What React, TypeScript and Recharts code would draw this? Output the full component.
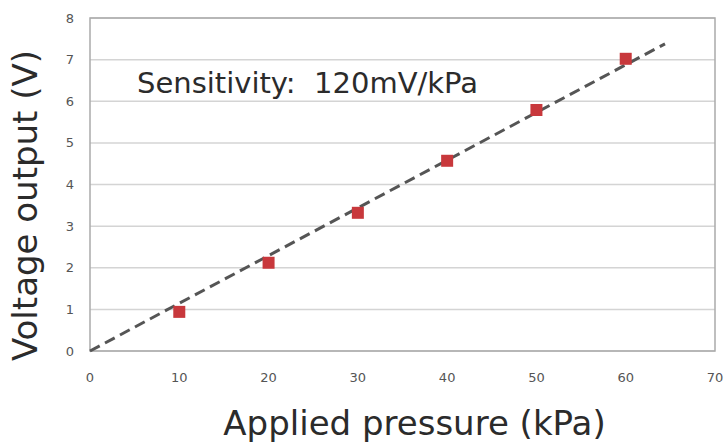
import React from 'react';
import { ScatterChart, Scatter, XAxis, YAxis, CartesianGrid, ReferenceArea } from 'recharts';

// measured points (kPa -> V)
const pressure = [10, 20, 30, 40, 50, 60];
const voltage = [0.94, 2.12, 3.32, 4.57, 5.79, 7.02];

// fitted trend line endpoints
const trendX = [0, 64.4];
const trendY = [0, 7.38];

const xTicks = [0, 10, 20, 30, 40, 50, 60, 70];
const yTicks = [0, 1, 2, 3, 4, 5, 6, 7, 8];

const points = pressure.map((p, i) => ({ x: p, y: voltage[i] }));
const trend = trendX.map((x, i) => ({ x, y: trendY[i] }));

const Square = (props: any) => {
  const { cx, cy } = props;
  if (cx == null || cy == null) return null;
  return <rect x={cx - 6} y={cy - 6} width={12} height={12} fill="#c8383c" />;
};

const tickStyle = { fontSize: 13, fill: '#555', fontFamily: 'DejaVu Sans' };
const titleFont = { fill: '#2b2b2b', fontFamily: 'DejaVu Sans' };

const XTitle = (props: any) => {
  const vb = props.viewBox;
  return (
    <text x={vb.x + vb.width / 2 + 12} y={435} textAnchor="middle" fontSize={34} {...titleFont}>
      Applied pressure (kPa)
    </text>
  );
};

const YTitle = (props: any) => {
  const vb = props.viewBox;
  const cy = vb.y + vb.height / 2 + 21;
  return (
    <text
      x={37}
      y={cy}
      textAnchor="middle"
      fontSize={34}
      transform={`rotate(-90, 37, ${cy})`}
      {...titleFont}
    >
      Voltage output (V)
    </text>
  );
};

export default function App() {
  return (
    <div style={{ position: 'absolute', left: 0, top: 0, width: 727, height: 442, background: '#fff' }}>
      <ScatterChart width={727} height={442} margin={{ top: 18, right: 12, left: 0, bottom: 0 }}>
        <CartesianGrid vertical={false} stroke="#d4d4d4" strokeWidth={1.5} />
        <ReferenceArea x1={0} x2={70} y1={0} y2={8} fill="none" stroke="#aaa" strokeWidth={1.5} />
        <XAxis
          type="number"
          dataKey="x"
          domain={[0, 70]}
          ticks={xTicks}
          axisLine={false}
          tickLine={false}
          tickMargin={16}
          tick={tickStyle}
          height={91}
          label={<XTitle />}
        />
        <YAxis
          type="number"
          dataKey="y"
          domain={[0, 8]}
          ticks={yTicks}
          axisLine={false}
          tickLine={false}
          tickMargin={10}
          tick={tickStyle}
          width={90}
          label={<YTitle />}
        />
        <Scatter
          data={trend}
          isAnimationActive={false}
          line={{ stroke: '#555', strokeWidth: 3, strokeDasharray: '11 6' }}
          shape={() => null}
        />
        <Scatter data={points} isAnimationActive={false} shape={<Square />} />
      </ScatterChart>
      <div
        style={{
          position: 'absolute',
          left: 137,
          top: 66,
          fontSize: 29,
          lineHeight: 'normal',
          color: '#2b2b2b',
          fontFamily: 'DejaVu Sans',
          whiteSpace: 'nowrap',
        }}
      >
        Sensitivity:&nbsp; 120mV/kPa
      </div>
    </div>
  );
}
